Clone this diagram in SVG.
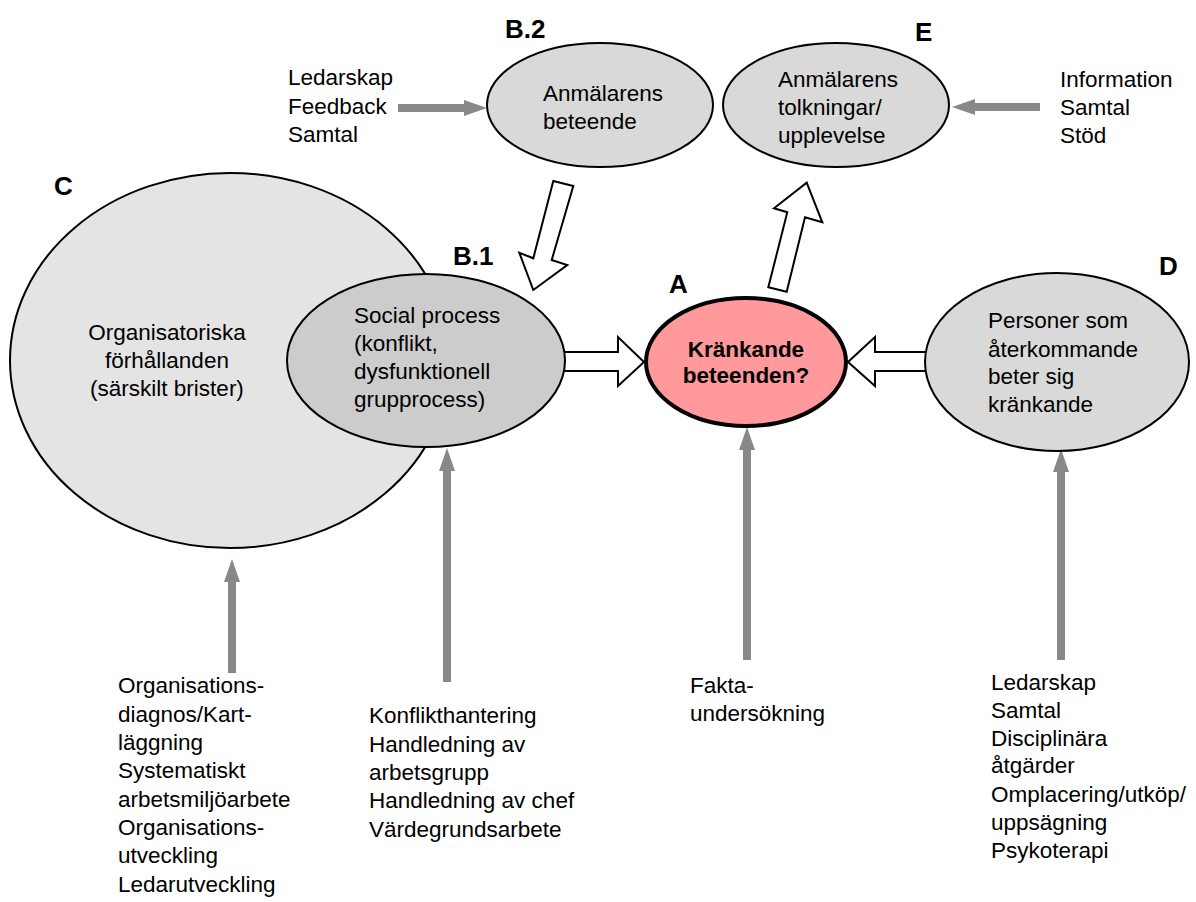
<svg xmlns="http://www.w3.org/2000/svg" width="1196" height="902" viewBox="0 0 1196 902">
<defs>
<style>
text{font-family:"Liberation Sans",Arial,Helvetica,sans-serif;fill:#000}
.t{font-size:22.5px}
.lbl{font-size:26px;font-weight:bold}
.node{stroke:#000;stroke-width:2}
.hollow{fill:#fff;stroke:#000;stroke-width:2;stroke-linejoin:miter}
.grey{stroke:#888;stroke-width:8;fill:none}
</style>
<marker id="gh" viewBox="0 0 23 16" refX="0" refY="8" markerWidth="23" markerHeight="16" markerUnits="userSpaceOnUse" orient="auto">
<path d="M0,0 L23,8 L0,16 z" fill="#888"/>
</marker>
</defs>
<rect width="1196" height="902" fill="#fff"/>

<g id="connectors">
<polygon class="hollow" points="553.3,181 573.3,186 551.7,260 567.3,265 533.3,290 519.3,252.7 533.3,258.3"/>
<polygon class="hollow" points="768.3,287.3 787.3,212.3 774,208.3 806.7,182.7 822.3,222.3 805,217.3 786.7,291.7"/>
<polygon class="hollow" points="540,352 618,352 618,337 644,362 618,386 618,371 540,371"/>
<polygon class="hollow" points="945,352 875,352 875,337 848,362 875,386 875,371 945,371"/>
<line class="grey" x1="398" y1="108" x2="464" y2="108" marker-end="url(#gh)"/>
<line class="grey" x1="1040" y1="107" x2="975" y2="107" marker-end="url(#gh)"/>
<line class="grey" x1="232" y1="673" x2="232" y2="582" marker-end="url(#gh)"/>
<line class="grey" x1="447" y1="682" x2="447" y2="471" marker-end="url(#gh)"/>
<line class="grey" x1="747" y1="660" x2="747" y2="450" marker-end="url(#gh)"/>
<line class="grey" x1="1061" y1="660" x2="1061" y2="472" marker-end="url(#gh)"/>
</g>

<g id="C">
<ellipse class="node" cx="230" cy="360.5" rx="220" ry="187.5" fill="#e4e4e4"/>
<text class="lbl" x="54" y="195">C</text>
<text class="t" text-anchor="middle"><tspan x="167" y="340">Organisatoriska</tspan><tspan x="167" y="368">förhållanden</tspan><tspan x="167" y="396">(särskilt brister)</tspan></text>
</g>

<g id="B1">
<ellipse class="node" cx="426" cy="360.5" rx="139" ry="86.5" fill="#cccccc"/>
<text class="lbl" x="453" y="265">B.1</text>
<text class="t"><tspan x="354" y="323">Social process</tspan><tspan x="354" y="351">(konflikt,</tspan><tspan x="354" y="379">dysfunktionell</tspan><tspan x="354" y="407">grupprocess)</tspan></text>
</g>

<g id="B2">
<ellipse class="node" cx="600" cy="105" rx="113" ry="62" fill="#d9d9d9"/>
<text class="lbl" x="505" y="38">B.2</text>
<text class="t"><tspan x="543" y="101">Anmälarens</tspan><tspan x="543" y="129">beteende</tspan></text>
</g>

<g id="E">
<ellipse class="node" cx="836" cy="105" rx="113" ry="62" fill="#d9d9d9"/>
<text class="lbl" x="915" y="41">E</text>
<text class="t"><tspan x="778" y="87">Anmälarens</tspan><tspan x="778" y="115">tolkningar/</tspan><tspan x="778" y="143">upplevelse</tspan></text>
</g>

<g id="A">
<ellipse cx="746" cy="362" rx="100" ry="64" fill="#ff999b" stroke="#000" stroke-width="4"/>
<text class="lbl" x="669" y="293">A</text>
<text text-anchor="middle" style="font-size:22.5px;font-weight:bold"><tspan x="746" y="357">Kränkande</tspan><tspan x="746" y="383">beteenden?</tspan></text>
</g>

<g id="D">
<ellipse class="node" cx="1057" cy="362" rx="132" ry="89" fill="#d9d9d9"/>
<text class="lbl" x="1159" y="275">D</text>
<text class="t"><tspan x="988" y="328">Personer som</tspan><tspan x="988" y="357">återkommande</tspan><tspan x="988" y="384">beter sig</tspan><tspan x="988" y="412">kränkande</tspan></text>
</g>

<g id="input-B2">
<text class="t"><tspan x="288" y="85">Ledarskap</tspan><tspan x="288" y="114">Feedback</tspan><tspan x="288" y="142">Samtal</tspan></text>
</g>

<g id="input-E">
<text class="t"><tspan x="1060" y="87">Information</tspan><tspan x="1060" y="115">Samtal</tspan><tspan x="1060" y="143">Stöd</tspan></text>
</g>

<g id="input-C">
<text class="t"><tspan x="118" y="693">Organisations-</tspan><tspan x="118" y="722">diagnos/Kart-</tspan><tspan x="118" y="750">läggning</tspan><tspan x="118" y="778">Systematiskt</tspan><tspan x="118" y="807">arbetsmiljöarbete</tspan><tspan x="118" y="835">Organisations-</tspan><tspan x="118" y="863">utveckling</tspan><tspan x="118" y="892">Ledarutveckling</tspan></text>
</g>

<g id="input-B1">
<text class="t"><tspan x="369" y="723">Konflikthantering</tspan><tspan x="369" y="752">Handledning av</tspan><tspan x="369" y="780">arbetsgrupp</tspan><tspan x="369" y="808">Handledning av chef</tspan><tspan x="369" y="837">Värdegrundsarbete</tspan></text>
</g>

<g id="input-A">
<text class="t"><tspan x="690" y="693">Fakta-</tspan><tspan x="690" y="721">undersökning</tspan></text>
</g>

<g id="input-D">
<text class="t"><tspan x="991" y="690">Ledarskap</tspan><tspan x="991" y="718">Samtal</tspan><tspan x="991" y="746">Disciplinära</tspan><tspan x="991" y="773">åtgärder</tspan><tspan x="991" y="802">Omplacering/utköp/</tspan><tspan x="991" y="830">uppsägning</tspan><tspan x="991" y="858">Psykoterapi</tspan></text>
</g>
</svg>
